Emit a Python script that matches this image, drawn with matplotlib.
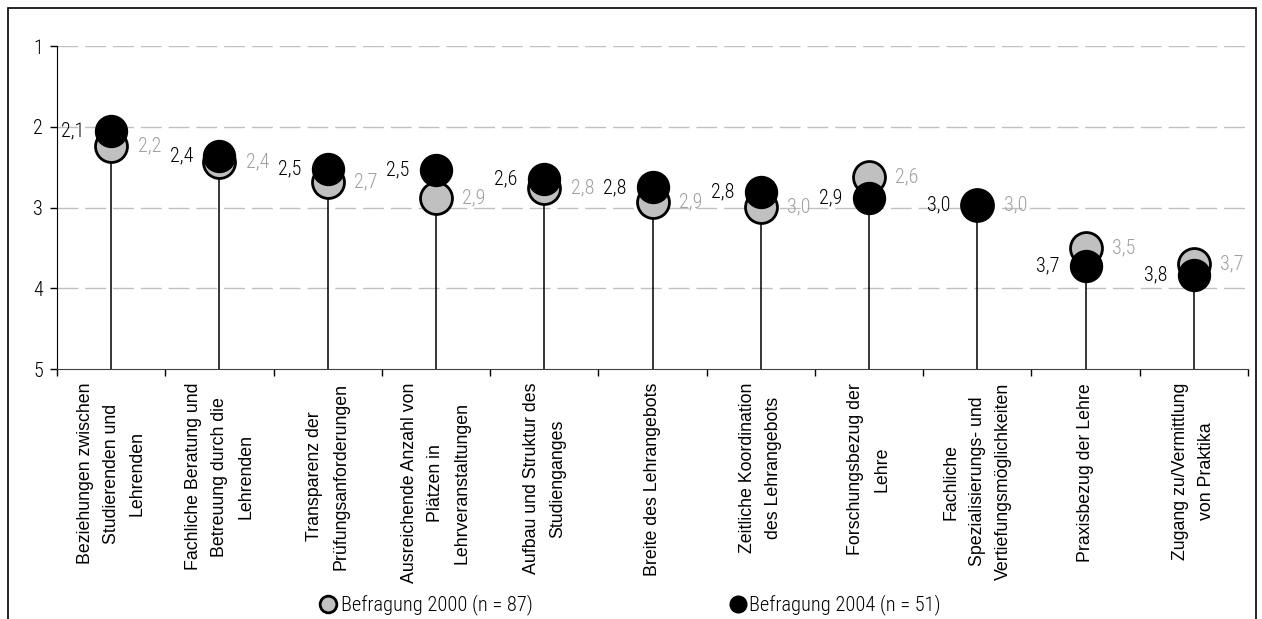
import matplotlib
matplotlib.use("Agg")
import matplotlib.pyplot as plt
from matplotlib import font_manager
from matplotlib.lines import Line2D
from matplotlib.patches import Rectangle
import numpy as np

# categories (x axis), line breaks as in the chart
categories = [
    "Beziehungen zwischen\nStudierenden und\nLehrenden",
    "Fachliche Beratung und\nBetreuung durch die\nLehrenden",
    "Transparenz der\nPrüfungsanforderungen",
    "Ausreichende Anzahl von\nPlätzen in\nLehrveranstaltungen",
    "Aufbau und Struktur des\nStudienganges",
    "Breite des Lehrangebots",
    "Zeitliche Koordination\ndes Lehrangebots",
    "Forschungsbezug der\nLehre",
    "Fachliche\nSpezialisierungs- und\nVertiefungsmöglichkeiten",
    "Praxisbezug der Lehre",
    "Zugang zu/Vermittlung\nvon Praktika",
]

# mean ratings (1 = best, 5 = worst)
values_2000 = [2.23, 2.43, 2.68, 2.88, 2.76, 2.93, 2.99, 2.62, 2.97, 3.50, 3.70]
values_2004 = [2.05, 2.36, 2.52, 2.53, 2.64, 2.75, 2.80, 2.88, 2.97, 3.72, 3.83]
labels_2000 = ["2,2", "2,4", "2,7", "2,9", "2,8", "2,9", "3,0", "2,6", "3,0", "3,5", "3,7"]
labels_2004 = ["2,1", "2,4", "2,5", "2,5", "2,6", "2,8", "2,8", "2,9", "3,0", "3,7", "3,8"]

legend_2000 = "Befragung 2000 (n = 87)"
legend_2004 = "Befragung 2004 (n = 51)"

# narrow font for numbers and legend (Arial Narrow look-alike)
names = {f.name for f in font_manager.fontManager.ttflist}
narrow = "Liberation Sans"
for cand in ["Liberation Sans Narrow", "Arial Narrow", "Roboto Condensed", "Archivo Narrow",
             "Barlow Semi Condensed"]:
    if cand in names:
        narrow = cand
        break
nfam = [narrow, "DejaVu Sans"]
nweight = "light"

plt.rcParams["font.family"] = ["Liberation Sans", "DejaVu Sans"]

fig = plt.figure(figsize=(12.62, 6.19), dpi=100)
ax = fig.add_axes([57 / 1262, 1 - 369 / 619, (1248 - 57) / 1262, (369 - 46.3) / 619])

x = np.arange(len(categories))

# grid lines
for yv in [1, 2, 3, 4]:
    ax.axhline(yv, color="#c0c0c0", lw=1, dashes=(15, 5), zorder=0)

# stems from the bottom up to the higher marker
tops = np.minimum(values_2000, values_2004)
ax.vlines(x, 5, tops, color="black", lw=1.1, zorder=1)

ms = 23
ax.plot(x, values_2000, "o", ms=ms, mfc="#c0c0c0", mec="black", mew=2, ls="none", zorder=2)
ax.plot(x, values_2004, "o", ms=ms, mfc="black", mec="black", mew=1, ls="none", zorder=3)

for i in range(len(categories)):
    ax.annotate(labels_2004[i], (x[i], values_2004[i]), xytext=(-19, 0),
                textcoords="offset points", ha="right", va="center",
                family=nfam, weight=nweight, fontsize=14.5, color="black")
    ax.annotate(labels_2000[i], (x[i], values_2000[i]), xytext=(19, 0),
                textcoords="offset points", ha="left", va="center",
                family=nfam, weight=nweight, fontsize=14.5, color="#a0a0a0")

ax.set_xlim(-0.5, len(categories) - 0.5)
ax.set_ylim(5, 1)
ax.set_yticks([1, 2, 3, 4, 5])
ax.set_yticklabels(["1", "2", "3", "4", "5"], family=nfam, weight=nweight, fontsize=14.5)

# category ticks at the borders, labels centred
ax.set_xticks(np.arange(len(categories) + 1) - 0.5)
ax.set_xticklabels([])
ax.set_xticks(x, minor=True)
ax.set_xticklabels(categories, minor=True, rotation=90, fontsize=12.8, ha="center", va="top",
                   multialignment="center", linespacing=1.7)
ax.tick_params(axis="x", which="minor", length=0, pad=10)
ax.tick_params(axis="x", which="major", length=5, width=1, direction="out")
ax.tick_params(axis="y", length=5, width=1, direction="out", pad=5)

ax.spines["top"].set_visible(False)
ax.spines["right"].set_visible(False)
ax.spines["left"].set_color("black")
ax.spines["bottom"].set_color("#404040")

# legend, one entry each so the positions can be set
h2000 = Line2D([], [], marker="o", ls="none", ms=12, mfc="#c0c0c0", mec="black", mew=2)
h2004 = Line2D([], [], marker="o", ls="none", ms=12, mfc="black", mec="black")
for h, lab, left, pad in [(h2000, legend_2000, 320, 0.25), (h2004, legend_2004, 730, 0.12)]:
    fig.legend([h], [lab], loc="center left", bbox_to_anchor=(left / 1262, 1 - 605 / 619),
               frameon=False, handletextpad=pad, handlelength=0.8, borderpad=0,
               borderaxespad=0, prop={"family": nfam, "size": 14.7, "weight": nweight})

# outer frame of the chart
fig.patches.append(Rectangle((8 / 1262, -0.05), (1256 - 8) / 1262, 1.05 - 8 / 619,
                             transform=fig.transFigure, fill=False, ec="black", lw=1.2))

fig.savefig("out.png", dpi=100)
